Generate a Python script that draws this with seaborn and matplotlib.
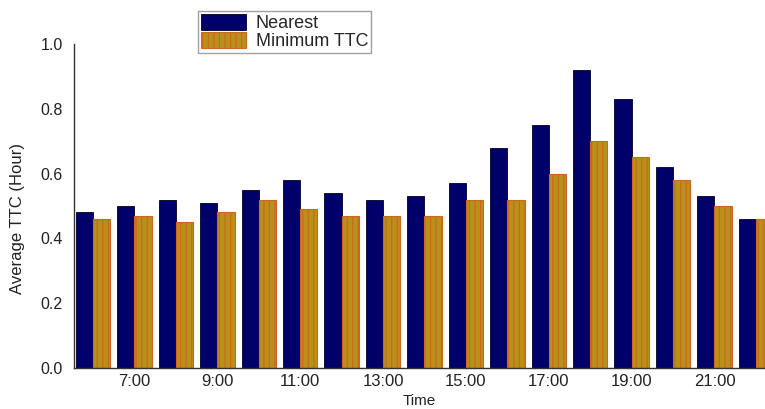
import matplotlib
matplotlib.use("Agg")
import matplotlib.pyplot as plt
import seaborn as sns
import pandas as pd

hours = [f"{h}:00" for h in range(6, 23)]
nearest = [0.48, 0.50, 0.52, 0.51, 0.55, 0.58, 0.54, 0.52, 0.53, 0.57,
           0.68, 0.75, 0.92, 0.83, 0.62, 0.53, 0.46]
min_ttc = [0.46, 0.47, 0.45, 0.48, 0.52, 0.49, 0.47, 0.47, 0.47, 0.52,
           0.52, 0.60, 0.70, 0.65, 0.58, 0.50, 0.46]
series = ["Nearest", "Minimum TTC"]

df = pd.DataFrame({
    "Time": hours * 2,
    "TTC": nearest + min_ttc,
    "Series": [series[0]] * len(hours) + [series[1]] * len(hours),
})

sns.set_style("white")
plt.rcParams["font.family"] = ["Liberation Sans", "DejaVu Sans"]
plt.rcParams["hatch.linewidth"] = 0.8

navy = "#00006B"
gold = "#B8901A"
stripe = "#CC6622"
text_col = "#222222"

fig = plt.figure(figsize=(7.65, 4.09), dpi=100)
ax = fig.add_axes([74 / 765, 41 / 409, 1 - 74 / 765, 324 / 409])

sns.barplot(data=df, x="Time", y="TTC", hue="Series", order=hours,
            hue_order=series, palette=[navy, gold], width=0.83, gap=0,
            saturation=1, ax=ax, legend=False)

n = len(hours)
for i, bar in enumerate(ax.patches[:2 * n]):
    if i < n:
        bar.set_edgecolor("#000022")
        bar.set_linewidth(0.6)
    else:
        bar.set_edgecolor(stripe)
        bar.set_hatch("|||")
        bar.set_linewidth(0.8)

ax.set_xlim(-0.46, 16.22)
ax.set_ylim(0, 1.0)
yt = [0, 0.2, 0.4, 0.6, 0.8, 1.0]
ax.set_yticks(yt)
ax.set_yticklabels([f"{v:.1f}" for v in yt])
ax.set_xticks(range(n))
ax.set_xticklabels([h if i % 2 == 1 else "" for i, h in enumerate(hours)])
ax.tick_params(axis="x", length=0, pad=4, labelsize=12, colors=text_col)
ax.tick_params(axis="y", length=3, direction="in", pad=8, labelsize=11.5,
               colors=text_col)
ax.set_xlabel("Time", fontsize=11, color=text_col, labelpad=4)
ax.set_ylabel("Average TTC (Hour)", fontsize=12, color=text_col)
ax.yaxis.set_label_coords(-0.071, 0.46)

for side in ["top", "right"]:
    ax.spines[side].set_visible(False)
for side in ["left", "bottom"]:
    ax.spines[side].set_color("#333333")
    ax.spines[side].set_linewidth(1.0)

handles = [
    plt.Rectangle((0, 0), 1, 1, facecolor=navy, edgecolor="#000022", linewidth=0.6),
    plt.Rectangle((0, 0), 1, 1, facecolor=gold, edgecolor=stripe,
                  hatch="|||", linewidth=0.8),
]
leg = fig.legend(handles, series, loc="upper left",
                 bbox_to_anchor=(198 / 765, 1 - 11 / 409),
                 frameon=True, fancybox=False, fontsize=13,
                 handlelength=2.5, handleheight=1.0, labelspacing=0.0,
                 handletextpad=0.55, borderpad=0.15, borderaxespad=0)
leg.get_frame().set_edgecolor("#888888")
leg.get_frame().set_linewidth(1.0)

fig.savefig("out.png", dpi=100)
